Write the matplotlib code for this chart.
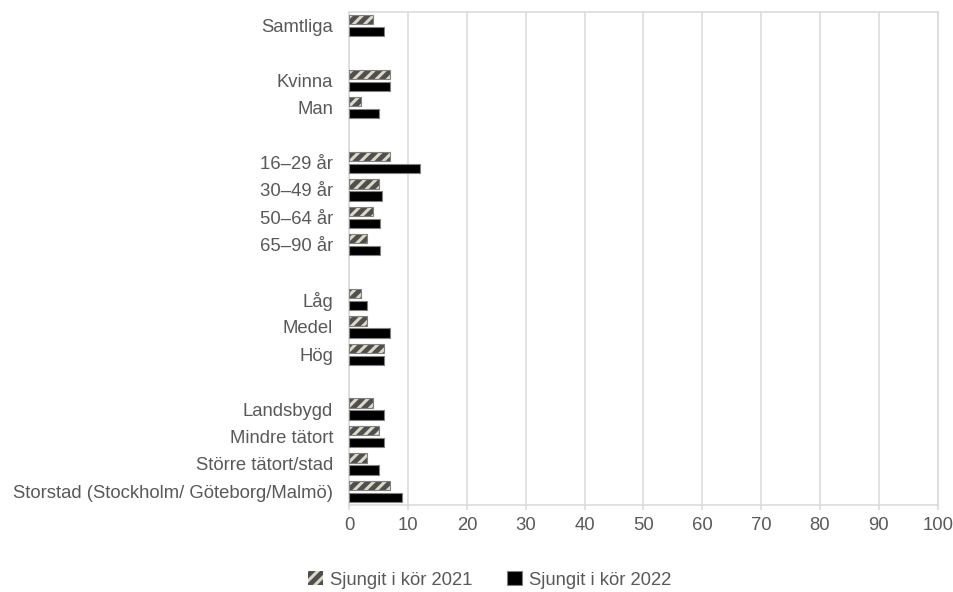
import matplotlib
matplotlib.use("Agg")
import matplotlib.pyplot as plt
from matplotlib.patches import Patch
import numpy as np

plt.rcParams['font.family'] = ['Liberation Sans', 'DejaVu Sans']
plt.rcParams['hatch.linewidth'] = 2.2

# categories in order, None = empty gap row
categories = ["Samtliga", None, "Kvinna", "Man", None,
              "16–29 år", "30–49 år", "50–64 år", "65–90 år", None,
              "Låg", "Medel", "Hög", None,
              "Landsbygd", "Mindre tätort", "Större tätort/stad",
              "Storstad (Stockholm/ Göteborg/Malmö)"]
sung_2021 = [4, None, 7, 2, None, 7, 5, 4, 3, None, 2, 3, 6, None, 4, 5, 3, 7]
sung_2022 = [6, None, 7, 5, None, 12, 5.5, 5.3, 5.2, None, 3, 7, 6, None, 6, 6, 5, 9]
x_ticks = [0, 10, 20, 30, 40, 50, 60, 70, 80, 90, 100]

text_col = '#595959'
grid_col = '#d9d9d9'
hatch_bg = '#4f4f4f'
hatch_fg = '#ddd9c4'
edge_col = '#808080'

fig = plt.figure(figsize=(9.54, 5.92), dpi=100)
ax = fig.add_axes([0.366, 0.147, 0.617, 0.833])

rows = [i for i, c in enumerate(categories) if c is not None]
v21 = [sung_2021[i] for i in rows]
v22 = [sung_2022[i] for i in rows]
y = np.array(rows, dtype=float)
bh = 0.34
off = 0.22

# hatched 2021 bars: fill + stripes, then a grey outline on top
ax.barh(y - off, v21, height=bh, color=hatch_bg, edgecolor=hatch_fg,
        hatch='///', linewidth=0, zorder=3)
ax.barh(y - off, v21, height=bh, fill=False, edgecolor=edge_col,
        linewidth=0.8, zorder=4)
ax.barh(y + off, v22, height=bh, color='black', edgecolor=edge_col,
        linewidth=0.8, zorder=3)

ax.set_ylim(len(categories) - 0.5, -0.5)
ax.set_yticks(rows)
ax.set_yticklabels([categories[i] for i in rows])
ax.set_xlim(0, 100)
ax.set_xticks(x_ticks)

ax.grid(axis='x', color=grid_col, linewidth=1.1, zorder=0)
ax.set_axisbelow(True)
for s in ax.spines.values():
    s.set_color(grid_col)
    s.set_linewidth(1.1)

ax.tick_params(axis='y', length=0, pad=11.5, labelsize=13.3, labelcolor=text_col)
ax.tick_params(axis='x', length=3.6, width=1.1, color=grid_col, pad=5,
               labelsize=13.3, labelcolor=text_col)

handles = [Patch(facecolor=hatch_bg, edgecolor=hatch_fg, hatch='///', linewidth=0,
                 label='Sjungit i kör 2021'),
           Patch(facecolor='black', edgecolor=edge_col, linewidth=0.8,
                 label='Sjungit i kör 2022')]
leg = fig.legend(handles=handles, loc='center', bbox_to_anchor=(0.513, 1 - 580 / 592),
                 ncol=2, frameon=False, fontsize=13.3, handlelength=0.81,
                 handleheight=0.81, handletextpad=0.38, columnspacing=1.9)
for t in leg.get_texts():
    t.set_color(text_col)

fig.savefig('out.png', dpi=100)
